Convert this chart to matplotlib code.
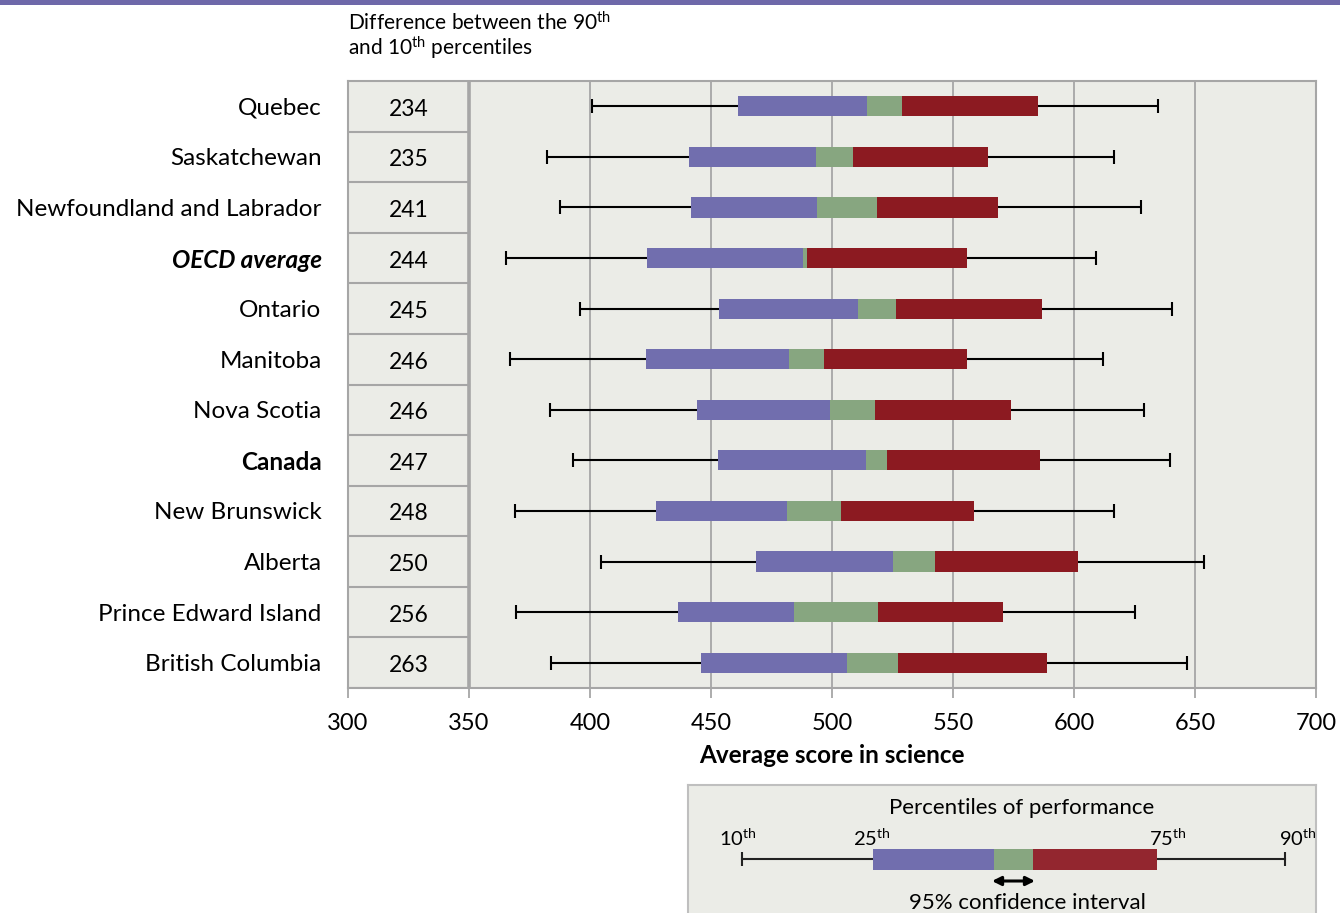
import matplotlib
matplotlib.use('Agg')
import matplotlib.pyplot as plt
from matplotlib.patches import Rectangle
import numpy as np

plt.rcParams['font.family'] = ['Lato', 'DejaVu Sans']
plt.rcParams['mathtext.fontset'] = 'custom'
plt.rcParams['mathtext.rm'] = 'Lato'
plt.rcParams['mathtext.it'] = 'Lato:italic'
plt.rcParams['mathtext.bf'] = 'Lato:bold'

# ---------------- data ----------------
regions = ["Quebec", "Saskatchewan", "Newfoundland and Labrador", "OECD average",
           "Ontario", "Manitoba", "Nova Scotia", "Canada", "New Brunswick",
           "Alberta", "Prince Edward Island", "British Columbia"]
diff_90_10 = [234, 235, 241, 244, 245, 246, 246, 247, 248, 250, 256, 263]
p10 = [400.8, 382.1, 387.6, 365.3, 395.8, 366.8, 383.4, 392.9, 369.2, 404.5, 369.5, 383.9]
p25 = [461.1, 440.8, 441.8, 423.4, 453.4, 423.2, 444.2, 452.9, 427.1, 468.7, 436.3, 445.8]
ci_low = [514.5, 493.4, 493.7, 487.9, 510.8, 482.1, 499.2, 513.9, 481.3, 525.3, 484.2, 506.1]
ci_high = [528.9, 508.7, 518.7, 489.7, 526.6, 496.8, 517.6, 522.6, 503.9, 542.4, 519.2, 527.4]
p75 = [585.3, 564.5, 568.7, 555.8, 586.8, 555.8, 573.9, 586.1, 558.7, 601.8, 570.5, 589.0]
p90 = [634.7, 616.6, 627.6, 608.9, 640.5, 612.1, 628.9, 639.5, 616.6, 653.9, 625.0, 646.8]
x_ticks = [300, 350, 400, 450, 500, 550, 600, 650, 700]
grid_ticks = [400, 450, 500, 550, 600, 650]
table_x0, table_x1 = 300, 350

PURPLE = '#716EAE'
GREEN = '#87A680'
RED = '#8C1A21'
BG = '#EBECE7'
GRID = '#A6A6A6'

W, H = 1340, 913
fig = plt.figure(figsize=(W / 100, H / 100), dpi=100)

def px_rect(x0, y0, x1, y1):
    return [x0 / W, 1 - y1 / H, (x1 - x0) / W, (y1 - y0) / H]

# top band
fig.add_artist(Rectangle((0, 1 - 5 / H), 1, 5 / H, transform=fig.transFigure,
                         color='#6E68A9', lw=0))

# ---------------- main axes ----------------
ax = fig.add_axes(px_rect(348, 81, 1316, 688))
ax.set_facecolor(BG)
n = len(regions)
y = np.arange(n)
ax.set_xlim(300, 700)
ax.set_ylim(n - 0.5, -0.5)

for g in grid_ticks:
    ax.axvline(g, color=GRID, lw=1.3, zorder=1)
ax.axvline(table_x1, color=GRID, lw=2.6, zorder=1)

# table cells
for i in range(n):
    ax.plot([table_x0, table_x1], [i + 0.5, i + 0.5], color=GRID, lw=1.5, zorder=1)
    ax.text((table_x0 + table_x1) / 2, i + 0.02, str(diff_90_10[i]), ha='center',
            va='center_baseline', fontsize=16.5, color='black')

bh = 0.4
lo = np.array(p10); hi = np.array(p90)
ax.hlines(y, lo, hi, color='black', lw=1.5, zorder=2)
ax.plot(lo, y, ls='none', marker='|', ms=10, mew=1.5, color='black', zorder=2)
ax.plot(hi, y, ls='none', marker='|', ms=10, mew=1.5, color='black', zorder=2)
a25 = np.array(p25); cl = np.array(ci_low); ch = np.array(ci_high); a75 = np.array(p75)
ax.barh(y, cl - a25, left=a25, height=bh, color=PURPLE, zorder=3, lw=0)
ax.barh(y, ch - cl, left=cl, height=bh, color=GREEN, zorder=3, lw=0)
ax.barh(y, a75 - ch, left=ch, height=bh, color=RED, zorder=3, lw=0)

for s in ax.spines.values():
    s.set_color(GRID)
    s.set_linewidth(1.5)

ax.set_xticks(x_ticks)
ax.set_xticklabels([str(t) for t in x_ticks], fontsize=17)
ax.tick_params(axis='x', direction='out', length=7, width=1.3, color=GRID, pad=11)
ax.set_yticks(y)
ax.set_yticklabels(regions, fontsize=17.5, va='center_baseline')
ax.tick_params(axis='y', length=0, pad=19)
for lab in ax.get_yticklabels():
    t = lab.get_text()
    if t == 'OECD average':
        lab.set_fontweight('bold'); lab.set_fontstyle('italic')
    elif t == 'Canada':
        lab.set_fontweight('bold')
ax.set_xlabel('Average score in science', fontsize=17.5, fontweight='bold', labelpad=7)

# header text
fig.text(348 / W, 1 - 23 / H, r'Difference between the 90$^{\mathrm{th}}$',
         fontsize=15, va='center', ha='left')
fig.text(348 / W, 1 - 48 / H, r'and 10$^{\mathrm{th}}$ percentiles',
         fontsize=15, va='center', ha='left')

# ---------------- legend ----------------
lg = fig.add_axes(px_rect(688, 785, 1316, 916))
lg.set_facecolor(BG)
lg.set_xlim(688, 1316)
lg.set_ylim(916, 785)
lg.set_xticks([]); lg.set_yticks([])
for s in lg.spines.values():
    s.set_color('#BFBFBF'); s.set_linewidth(1.5)
ly = 859
lg.plot([742, 1285], [ly, ly], color='#222222', lw=1.5)
lg.plot([742, 1285], [ly, ly], ls='none', marker='|', ms=10, mew=1.5, color='#222222')
lg.add_patch(Rectangle((873, ly - 10.5), 994 - 873, 21, color=PURPLE, lw=0, zorder=3))
lg.add_patch(Rectangle((994, ly - 10.5), 1033 - 994, 21, color=GREEN, lw=0, zorder=3))
lg.add_patch(Rectangle((1033, ly - 10.5), 1157 - 1033, 21, color='#93262F', lw=0, zorder=3))
lg.annotate('', xy=(992, 881), xytext=(1035, 881),
            arrowprops=dict(arrowstyle='<|-|>', color='black', lw=2.2, mutation_scale=13,
                            shrinkA=0, shrinkB=0))
lg.text(1022, 808, 'Percentiles of performance', fontsize=16, ha='center', va='center')
lg.text(1027, 903, '95% confidence interval', fontsize=16, ha='center', va='center')
for xx, lab in [(738, '10'), (872, '25'), (1168, '75'), (1298, '90')]:
    lg.text(xx, 838, lab + r'$^{\mathrm{th}}$', fontsize=14.5, ha='center', va='center')

fig.savefig('out.png', dpi=100)
